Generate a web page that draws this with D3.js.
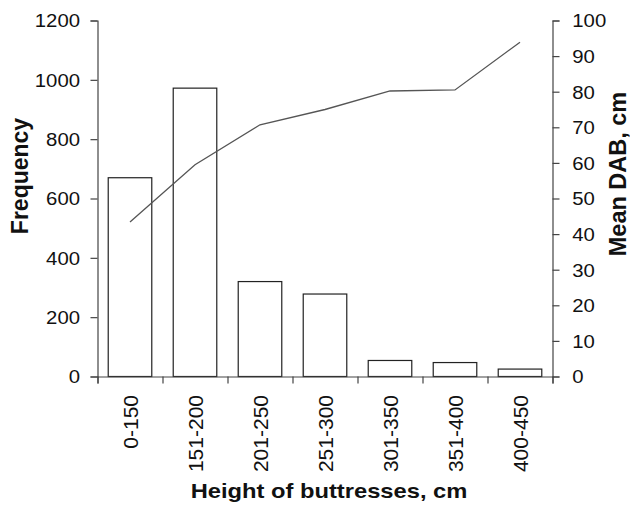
<!DOCTYPE html>
<html>
<head>
<meta charset="utf-8">
<script src="https://cdn.jsdelivr.net/npm/d3@7"></script>
<style>
  html, body { margin: 0; padding: 0; background: #fff; }
  svg { display: block; font-family: "Liberation Sans", Arial, sans-serif; }
</style>
</head>
<body>
<svg id="chart" width="630" height="505"></svg>
<script>
// ---- data ----
const categories = ["0-150", "151-200", "201-250", "251-300", "301-350", "351-400", "400-450"];
const frequency = [670, 972, 320, 278, 54, 47, 25];
const meanDAB = [43.4, 59.5, 70.7, 75.0, 80.2, 80.5, 93.9];
const leftTicks = [0, 200, 400, 600, 800, 1000, 1200];
const rightTicks = [0, 10, 20, 30, 40, 50, 60, 70, 80, 90, 100];
const xTitle = "Height of buttresses, cm";
const yLeftTitle = "Frequency";
const yRightTitle = "Mean DAB, cm";

// ---- layout ----
const L = 97.5, R = 552.5, T = 20.5, B = 376.5;
const SX = 1.13; // horizontal text stretch seen in reference
const axisColor = "#444";

const svg = d3.select("#chart");

const xBand = d3.scaleBand().domain(categories).range([L, R])
  .paddingInner(0.33).paddingOuter(0.165);
const xEdge = d3.scaleLinear().domain([0, categories.length]).range([L, R]);
const yL = d3.scaleLinear().domain([0, 1200]).range([B, T]);
const yR = d3.scaleLinear().domain([0, 100]).range([B, T]);

// bars
svg.append("g").selectAll("rect").data(frequency).join("rect")
  .attr("x", (d, i) => xBand(categories[i]))
  .attr("y", d => yL(d))
  .attr("width", xBand.bandwidth())
  .attr("height", d => B - yL(d))
  .attr("fill", "#fff")
  .attr("stroke", "#222")
  .attr("stroke-width", 1.2);

// line
const line = d3.line()
  .x((d, i) => xBand(categories[i]) + xBand.bandwidth() / 2)
  .y(d => yR(d));
svg.append("path").datum(meanDAB)
  .attr("d", line)
  .attr("fill", "none")
  .attr("stroke", "#555")
  .attr("stroke-width", 1.3);

function styleAxis(g) {
  g.selectAll("path, line").attr("stroke", axisColor).attr("stroke-width", 1.2);
  g.selectAll("text").attr("fill", "#111");
}

// left axis
const gL = svg.append("g").attr("transform", `translate(${L},0)`)
  .call(d3.axisLeft(yL).tickValues(leftTicks).tickFormat(d3.format("d"))
    .tickSize(7).tickSizeOuter(7).tickPadding(0));
gL.selectAll("text")
  .attr("x", -15.5).attr("dy", "0.36em")
  .attr("font-size", 18).attr("font-family", "Liberation Sans, Arial, sans-serif")
  .attr("transform", `scale(${SX},1)`);
styleAxis(gL);

// right axis
const gR = svg.append("g").attr("transform", `translate(${R},0)`)
  .call(d3.axisRight(yR).tickValues(rightTicks).tickFormat(d3.format("d"))
    .tickSize(7).tickSizeOuter(7).tickPadding(0));
gR.selectAll("text")
  .attr("x", 17.5).attr("dy", "0.36em")
  .attr("font-size", 18).attr("font-family", "Liberation Sans, Arial, sans-serif")
  .attr("transform", `scale(${SX},1)`);
styleAxis(gR);

// bottom axis: ticks at category edges
const gB = svg.append("g").attr("transform", `translate(0,${B})`)
  .call(d3.axisBottom(xEdge).tickValues(d3.range(categories.length + 1))
    .tickFormat("").tickSize(7).tickSizeOuter(7));
styleAxis(gB);

// bottom labels (rotated)
const gBL = svg.append("g").attr("transform", `translate(0,${B})`)
  .call(d3.axisBottom(xBand).tickSize(0).tickSizeOuter(0));
gBL.select(".domain").remove();
gBL.selectAll("text")
  .attr("transform", "rotate(-90)")
  .attr("text-anchor", "end")
  .attr("x", -18.5).attr("y", 0).attr("dy", "0.36em")
  .attr("font-size", 21).attr("font-family", "Liberation Sans, Arial, sans-serif")
  .attr("fill", "#111");

// titles
svg.append("text")
  .attr("transform", `translate(${(L + R) / 2 + 4},498) scale(${SX},1)`)
  .attr("text-anchor", "middle")
  .attr("font-size", 21).attr("font-weight", "bold").attr("fill", "#111")
  .text(xTitle);

svg.append("text")
  .attr("transform", `translate(28,176) rotate(-90)`)
  .attr("text-anchor", "middle")
  .attr("font-size", 23).attr("font-weight", "bold").attr("fill", "#111")
  .text(yLeftTitle);

svg.append("text")
  .attr("transform", `translate(626,174) rotate(-90)`)
  .attr("text-anchor", "middle")
  .attr("font-size", 23.5).attr("font-weight", "bold").attr("fill", "#111")
  .text(yRightTitle);
</script>
</body>
</html>
